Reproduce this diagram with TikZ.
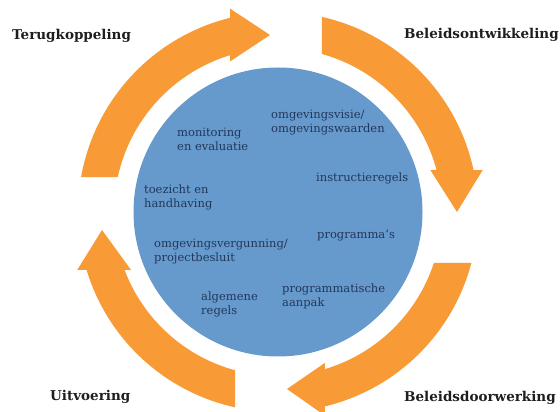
\documentclass[tikz,border=0pt]{standalone}
\usepackage{fontspec}
\setmainfont{DejaVu Serif}
\definecolor{arroworange}{HTML}{F89A36}
\definecolor{diskblue}{HTML}{6699CC}
\definecolor{itemnavy}{HTML}{22385A}
\definecolor{phaseblack}{HTML}{1E1E1E}
% #1 quadrant angle of the tail side, #2 tail offset, #3 head offset, #4,#5 tip (relative to centre)
\newcommand\ringarrow[5]{%
  \pgfmathsetmacro\tOut{#1-asin(#2/200)}%
  \pgfmathsetmacro\tIn{#1-asin(#2/164)}%
  \pgfmathsetmacro\hOut{#1-90+asin(#3/200)}%
  \pgfmathsetmacro\hIn{#1-90+asin(#3/164)}%
  \pgfmathsetmacro\bOut{#1-90+asin(#3/209)}%
  \pgfmathsetmacro\bIn{#1-90+asin(#3/158)}%
  \fill[band] (\tOut:200) arc[start angle=\tOut, end angle=\hOut, radius=200pt]
    -- (\bOut:209) -- (#4,#5) -- (\bIn:158) -- (\hIn:164)
    arc[start angle=\hIn, end angle=\tIn, radius=164pt] -- cycle;%
}
\begin{document}
\begin{tikzpicture}[x=1pt,y=1pt,
  band/.style={fill=arroworange},
  phase/.style={font=\fontsize{13.5}{15}\selectfont\bfseries, text=phaseblack, inner sep=0pt, anchor=base west},
  item/.style={font=\fontsize{11.5}{14.2}\selectfont, text=itemnavy, inner sep=0pt, anchor=base west, align=left}]
\useasboundingbox (0,0) rectangle (560,412);
\fill[white] (0,0) rectangle (560,412);
\coordinate (C) at (278,200);
\node[circle, fill=diskblue, minimum size=289pt, inner sep=0pt] (disk) at (C) {};
\begin{scope}[shift={(C)}]
  \ringarrow{180}{35}{48}{-8}{177}
  \ringarrow{90}{44}{42}{179}{0}
  \ringarrow{0}{51}{47}{9}{-177}
  \ringarrow{270}{43}{58}{-176}{-18}
\end{scope}
\node[phase] (terug) at (12,372) {Terugkoppeling};
\node[phase] (ontw) at (404,373) {Beleidsontwikkeling};
\node[phase] (uitv) at (50,11) {Uitvoering};
\node[phase] (door) at (404,10) {Beleidsdoorwerking};
% two-line nodes: anchor is the baseline of the last line
\node[item] (monitor) at (177,261) {monitoring\\en evaluatie};
\node[item] (visie) at (271,279) {omgevingsvisie/\\omgevingswaarden};
\node[item] (instr) at (316,230) {instructieregels};
\node[item] (toezicht) at (144,204) {toezicht en\\handhaving};
\node[item] (progr) at (317,173) {programma’s};
\node[item] (vergun) at (154,150) {omgevingsvergunning/\\projectbesluit};
\node[item] (aanpak) at (282,105) {programmatische\\aanpak};
\node[item] (algreg) at (201,97) {algemene\\regels};
\end{tikzpicture}
\end{document}
